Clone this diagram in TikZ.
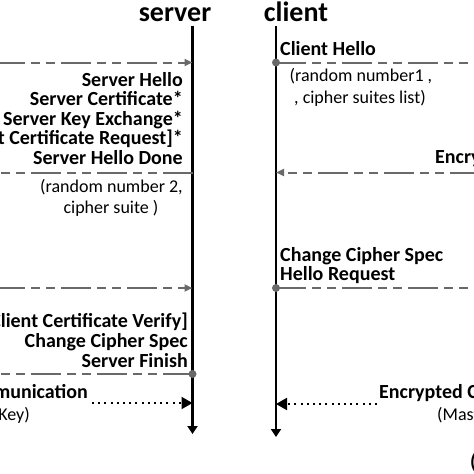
\documentclass[tikz,border=0pt]{standalone}
\usepackage{fontspec}
\setmainfont{Carlito}
\usetikzlibrary{arrows.meta}
\definecolor{msggray}{RGB}{105,105,105}
\tikzset{
  lifeline/.style={line width=2.3pt,-{Triangle[length=8pt,width=10pt]}},
  msgline/.style={msggray,line width=2pt,dash pattern=on 30pt off 6pt on 9pt off 6pt on 9pt off 6pt},
  msgarrow/.style={msgline,-{Triangle[length=8pt,width=7pt]}},
  dotarrow/.style={line width=2pt,dash pattern=on 2pt off 4.2pt,-{Triangle[length=11pt,width=12pt]}},
  msgdot/.style={circle,fill=msggray,inner sep=0pt,minimum size=8pt},
  headtext/.style={font=\fontsize{28}{28}\selectfont\bfseries,inner sep=0pt},
  msgtext/.style={font=\fontsize{20}{20}\selectfont\bfseries,inner sep=0pt},
  paramtext/.style={font=\fontsize{18}{22}\selectfont,inner sep=0pt},
}

\begin{document}
\begin{tikzpicture}[x=1pt,y=-1pt]
  \useasboundingbox (0,0) rectangle (474,474);
  \clip (0,0) rectangle (474,474);

  % lifelines
  \node[headtext,anchor=base] (srvname) at (175,21) {server};
  \node[headtext,anchor=base] (cliname) at (296,21) {client};
  \coordinate (srvtop) at (192.5,26);
  \coordinate (srvbot) at (192.5,434);
  \coordinate (clitop) at (276,26);
  \coordinate (clibot) at (276,437);
  \draw[lifeline] (srvtop) -- (srvbot);
  \draw[lifeline] (clitop) -- (clibot);

  % points on the lifelines and free ends
  \foreach \y [count=\i] in {62.5,172.5,288,374}{
    \coordinate (srv\i) at (192.5,\y);
    \coordinate (west\i) at (-5,\y);
    \coordinate (cli\i) at (276,\y);
    \coordinate (east\i) at (480,\y);
  }
  \coordinate (srv5) at (192.5,403);
  \coordinate (srvfrom) at (92,403);
  \coordinate (cli5) at (276,404);
  \coordinate (clifrom) at (377,404);

  % server side
  \draw[msgarrow] (west1) -- (srv1);
  \draw[msgline] (srv2) -- (west2);
  \draw[msgarrow] (west3) -- (srv3);
  \draw[msgline] (srv4) -- (west4);
  \node[msgdot] (srvdot4) at (srv4) {};
  \draw[dotarrow] (srvfrom) -- (srv5);

  % client side
  \draw[msgline] (cli1) -- (east1);
  \node[msgdot] (clidot1) at (cli1) {};
  \draw[msgarrow] (east2) -- (cli2);
  \draw[msgline] (cli3) -- (east3);
  \node[msgdot] (clidot3) at (cli3) {};
  \draw[dotarrow] (clifrom) -- (cli5);

  % labels
  \foreach \txt [count=\i from 0] in {Server Hello,Server Certificate*,Server Key Exchange*,{[Client Certificate Request]*},Server Hello Done}
    \node[msgtext,anchor=base east] (shello\i) at (183,{86+\i*19.6}) {\txt};
  \foreach \txt [count=\i from 0] in {{[Client Certificate Verify]},Change Cipher Spec,Server Finish}
    \node[msgtext,anchor=base east] (sfin\i) at (188,{327+\i*20}) {\txt};
  \node[paramtext,anchor=base] (sparam0) at (111.5,192) {(random number 2,};
  \node[paramtext,anchor=base] (sparam1) at (111,213) {cipher suite )};

  \node[msgtext,anchor=base west] (chello) at (280,55) {Client Hello};
  \node[paramtext,anchor=base] (cparam0) at (361,81) {(random number1 ,};
  \node[paramtext,anchor=base] (cparam1) at (360,103) {, cipher suites list)};
  \node[msgtext,anchor=base west] (ccipher) at (280,261) {Change Cipher Spec};
  \node[msgtext,anchor=base west] (creq) at (280,280) {Hello Request};
  \node[msgtext,anchor=base west] (cenc) at (435,163) {Encrypted};

  \node[msgtext,anchor=base east] (scomm) at (88,398) {Encrypted Communication};
  \node[paramtext,anchor=base east] (skey) at (30,420) {(Master Key)};
  \node[msgtext,anchor=base west] (ccomm) at (379,398) {Encrypted Communication};
  \node[paramtext,anchor=base west] (ckey) at (437,420) {(Master Key)};
  \node[msgtext,anchor=base west] (corner) at (470,468) {(};
\end{tikzpicture}
\end{document}
